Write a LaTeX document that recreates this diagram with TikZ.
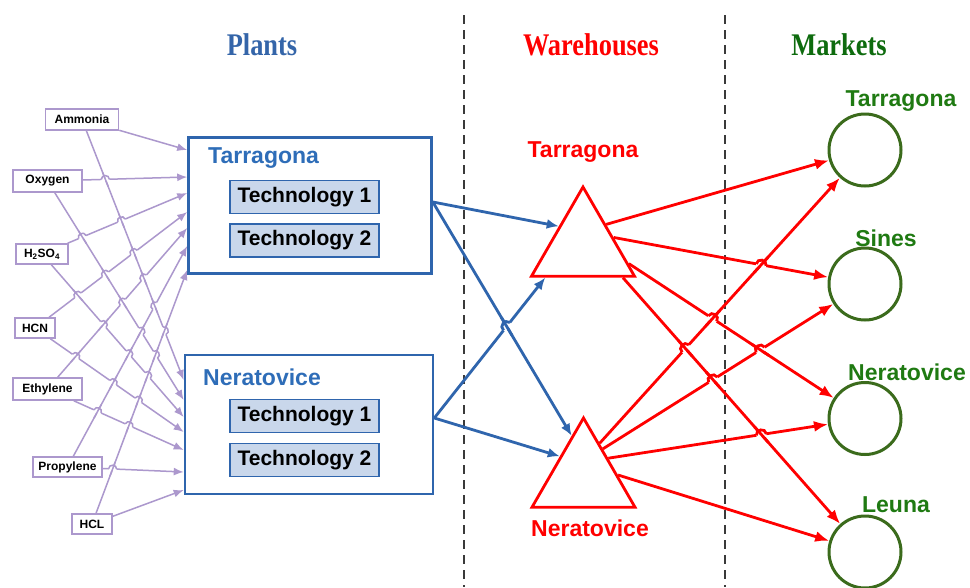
\documentclass[tikz,border=0pt]{standalone}
\usepackage{fontspec}
\usepackage{graphicx}
\setmainfont{Liberation Serif}
\newfontfamily\sansf{Liberation Sans}
\usetikzlibrary{arrows.meta,calc,intersections,shapes.geometric}
\definecolor{pblue}{HTML}{2F65AD}
\definecolor{lblue}{HTML}{2E6DB8}
\definecolor{techfill}{HTML}{C9D7EB}
\definecolor{ppurp}{HTML}{AC98CD}
\definecolor{mgreen}{HTML}{3B6B1C}
\definecolor{tgreen}{HTML}{1F7A12}
\definecolor{hgreen}{HTML}{0E6B0E}
\definecolor{hblue}{HTML}{3465A9}
\definecolor{dgray}{HTML}{3A3A3A}

% connector: #1 name, #2 style, #3 from, #4 to
\newcommand\conn[4]{%
  \draw[#2, name path=#1] (#3) -- (#4) coordinate[pos=0] (#1-s) coordinate[pos=1] (#1-e);%
}
% hop of line #1 over line #2
\newcommand\hopdraw[5]{%
  \draw[white, line width=#5pt] ($(hx-1)!#4pt!(#1-s)$) -- ($(hx-1)!#4pt!(#1-e)$);
  \draw[#3] ($(hx-1)!#4pt!(#1-s)$) to[bend left=90, looseness=1.6] ($(hx-1)!#4pt!(#1-e)$);
  \draw[#3] ($(hx-1)!#4pt+#5pt!(#2-s)$) -- ($(hx-1)!#4pt+#5pt!(#2-e)$);
}
\newcommand\hopchk[5]{%
  \path[name intersections={of=#1 and #2, name=hx, total=\hoptot}] \pgfextra{\xdef\hopn{\hoptot}};
  \ifnum\hopn>0\relax
    \path let \p1=($(#1-e)-(#1-s)$), \p2=($(#2-e)-(#2-s)$) in \pgfextra{%
      \pgfmathsetmacro\hsa{abs(\y1/\x1)}\pgfmathsetmacro\hsb{abs(\y2/\x2)}%
      \xdef\hsa{\hsa}\xdef\hsb{\hsb}};
    \ifdim\hsa pt<\hsb pt\relax
      \hopdraw{#1}{#2}{#3}{#4}{#5}%
    \else
      \hopdraw{#2}{#1}{#3}{#4}{#5}%
    \fi
  \fi
}

\tikzset{
  purp/.style={draw=ppurp, line width=1.5pt},
  purparrow/.style={purp, -{Latex[length=10pt,width=8pt]}},
  bl/.style={draw=pblue, line width=2.8pt},
  blarrow/.style={bl, -{Latex[length=12pt,width=10pt]}},
  rd/.style={draw=red, line width=2.8pt},
  rdarrow/.style={rd, -{Latex[length=14pt,width=11pt]}},
  mat/.style={draw=ppurp, line width=1.5pt, inner sep=0pt,
    font=\sansf\bfseries\fontsize{12}{12}\selectfont},
  plant/.style={draw=pblue, line width=2.6pt, inner sep=0pt},
  tech/.style={draw=pblue, fill=techfill, line width=1.5pt, inner sep=0pt,
    minimum width=149pt, minimum height=33pt,
    font=\sansf\bfseries\fontsize{21}{21}\selectfont, text=black},
  lbl/.style={font=\sansf\bfseries\fontsize{23}{23}\selectfont, inner sep=0pt},
  head/.style={font=\bfseries\fontsize{30}{30}\selectfont, inner sep=0pt},
  wh/.style={draw=red, line width=2.8pt, regular polygon, regular polygon sides=3,
    minimum size=119pt, inner sep=0pt},
  mk/.style={draw=mgreen, line width=3pt, circle, minimum size=72pt, inner sep=0pt},
  divider/.style={draw=dgray, line width=1.5pt, dash pattern=on 9pt off 6pt},
}

\begin{document}
\begin{tikzpicture}[x=1pt,y=-1pt]
\path[fill=white, use as bounding box] (0,0) rectangle (970,587);

% dividers
\coordinate (d1t) at (464,15); \coordinate (d1b) at (464,587);
\coordinate (d2t) at (725,15); \coordinate (d2b) at (725,587);
\draw[divider] (d1t) -- (d1b);
\draw[divider] (d2t) -- (d2b);

% headers
\node[head, text=hblue] (hp) at (262,45) {\scalebox{0.88}[1.05]{Plants}};
\node[head, text=red] (hw) at (591,45) {\scalebox{0.88}[1.05]{Warehouses}};
\node[head, text=hgreen] (hm) at (839,45) {\scalebox{0.88}[1.05]{Markets}};

% raw materials
\node[mat, minimum width=73pt, minimum height=21pt] (amm) at (82,119.5) {Ammonia};
\node[mat, minimum width=69pt, minimum height=22pt] (oxy) at (47.5,181) {Oxygen};
\node[mat, minimum width=52pt, minimum height=20pt] (hso) at (42,254) {H\textsubscript{2}SO\textsubscript{4}};
\node[mat, minimum width=40pt, minimum height=20pt] (hcn) at (35,328) {HCN};
\node[mat, minimum width=69pt, minimum height=22pt] (eth) at (47.5,389) {Ethylene};
\node[mat, minimum width=69pt, minimum height=20pt] (pro) at (67.5,467) {Propylene};
\node[mat, minimum width=40pt, minimum height=20pt] (hcl) at (92,524) {HCL};

% plants
\node[plant, minimum width=243pt, minimum height=136pt] (tp) at (310,205.5) {};
\node[plant, minimum width=248pt, minimum height=139pt] (np) at (309,424.5) {};
\node[lbl, text=lblue, anchor=west] (tpl) at (208,158) {Tarragona};
\node[lbl, text=lblue, anchor=west] (npl) at (203,377) {Neratovice};
\node[tech] (tp1) at (304.5,197) {Technology 1};
\node[tech] (tp2) at (304.5,240.5) {Technology 2};
\node[tech] (np1) at (304.5,416) {Technology 1};
\node[tech] (np2) at (304.5,460) {Technology 2};

% warehouses
\node[wh] (wt) at (583,246.5) {};
\node[wh] (wn) at (583.5,477.5) {};
\node[lbl, text=red] (wtl) at (583,152) {Tarragona};
\node[lbl, text=red] (wnl) at (590,528) {Neratovice};

% markets
\node[mk] (m1) at (865,150) {};
\node[mk] (m2) at (865,284) {};
\node[mk] (m3) at (865,418.5) {};
\node[mk] (m4) at (865,552) {};
\node[lbl, text=tgreen] (m1l) at (901,101) {Tarragona};
\node[lbl, text=tgreen] (m2l) at (886,238) {Sines};
\node[lbl, text=tgreen] (m3l) at (907,372) {Neratovice};
\node[lbl, text=tgreen] (m4l) at (896,505) {Leuna};

% purple end points
\coordinate (ta1) at (tp.west |- 0,150);
\coordinate (ta2) at (tp.west |- 0,177);
\coordinate (ta3) at (tp.west |- 0,193);
\coordinate (ta4) at (tp.west |- 0,212);
\coordinate (ta5) at (tp.west |- 0,228);
\coordinate (ta6) at (tp.west |- 0,246);
\coordinate (ta7) at (tp.west |- 0,270);
\coordinate (na1) at (np.west |- 0,380);
\coordinate (na2) at (np.west |- 0,400);
\coordinate (na3) at (np.west |- 0,417);
\coordinate (na4) at (np.west |- 0,432);
\coordinate (na5) at (np.west |- 0,450);
\coordinate (na6) at (np.west |- 0,472);
\coordinate (na7) at (np.west |- 0,490);

\conn{pa1}{purparrow}{amm}{ta1}
\conn{pa2}{purparrow}{oxy}{ta2}
\conn{pa3}{purparrow}{hso}{ta3}
\conn{pa4}{purparrow}{hcn}{ta4}
\conn{pa5}{purparrow}{eth}{ta5}
\conn{pa6}{purparrow}{pro}{ta6}
\conn{pa7}{purparrow}{hcl}{ta7}
\conn{pb1}{purparrow}{amm}{na1}
\conn{pb2}{purparrow}{oxy}{na2}
\conn{pb3}{purparrow}{hso}{na3}
\conn{pb4}{purparrow}{hcn}{na4}
\conn{pb5}{purparrow}{eth}{na5}
\conn{pb6}{purparrow}{pro}{na6}
\conn{pb7}{purparrow}{hcl}{na7}

% blue
\coordinate (tpo) at (tp.east |- 0,202);
\coordinate (npo) at (np.east |- 0,418);
\coordinate (wti1) at ($(wt.corner 1)!0.45!(wt.corner 2)$);
\coordinate (wti2) at ($(wt.corner 2)!0.15!(wt.corner 3)$);
\coordinate (wni1) at ($(wn.corner 1)!0.22!(wn.corner 2)$);
\coordinate (wni2) at ($(wn.corner 1)!0.44!(wn.corner 2)$);
\conn{b1}{blarrow}{tpo}{wti1}
\conn{b2}{blarrow}{tpo}{wni1}
\conn{b3}{blarrow}{npo}{wti2}
\conn{b4}{blarrow}{npo}{wni2}

% red
\coordinate (wto1) at ($(wt.corner 1)!0.43!(wt.corner 3)$);
\coordinate (wto2) at ($(wt.corner 1)!0.57!(wt.corner 3)$);
\coordinate (wto3) at ($(wt.corner 1)!0.85!(wt.corner 3)$);
\coordinate (wto4) at ($(wt.corner 2)!0.87!(wt.corner 3)$);
\coordinate (wno1) at ($(wn.corner 1)!0.30!(wn.corner 3)$);
\coordinate (wno2) at ($(wn.corner 1)!0.36!(wn.corner 3)$);
\coordinate (wno3) at ($(wn.corner 1)!0.46!(wn.corner 3)$);
\coordinate (wno4) at ($(wn.corner 1)!0.64!(wn.corner 3)$);
\conn{r1}{rdarrow}{wto1}{m1}
\conn{r2}{rdarrow}{wto2}{m2}
\conn{r3}{rdarrow}{wto3}{m3}
\conn{r4}{rdarrow}{wto4}{m4}
\conn{s1}{rdarrow}{wno1}{m1}
\conn{s2}{rdarrow}{wno2}{m2}
\conn{s3}{rdarrow}{wno3}{m3}
\conn{s4}{rdarrow}{wno4}{m4}

% line hops
\foreach \i in {1,...,7}{\foreach \j in {1,...,7}{\hopchk{pa\i}{pb\j}{purp}{4}{3.5}}}
\hopchk{b2}{b3}{bl}{5}{5.5}
\foreach \i in {1,...,4}{\foreach \j in {1,...,4}{\hopchk{r\i}{s\j}{rd}{5}{5.5}}}
\end{tikzpicture}
\end{document}
